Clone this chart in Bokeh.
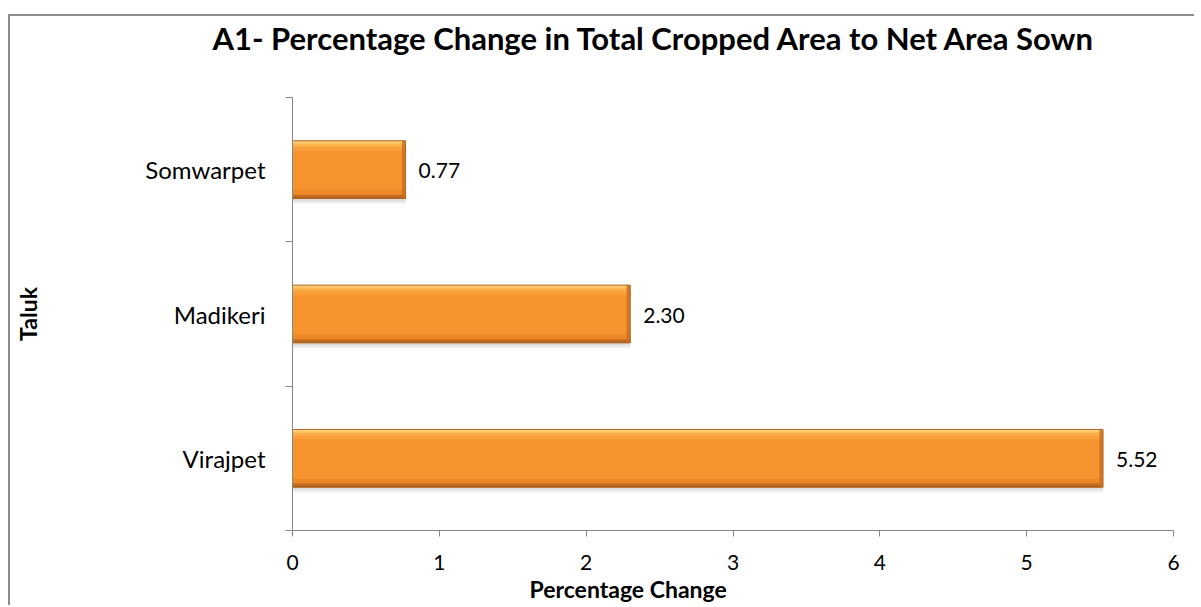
from bokeh.plotting import figure
from bokeh.models import ColumnDataSource, FixedTicker, Range1d, Title
from bokeh.transform import dodge
from bokeh.core.properties import value
from bokeh.embed import file_html
from bokeh.resources import INLINE

# ---- data ----
taluks = ["Virajpet", "Madikeri", "Somwarpet"]
pct_change = [5.52, 2.30, 0.77]
value_labels = ["5.52", "2.30", "0.77"]
x_ticks = [0, 1, 2, 3, 4, 5, 6]

title_text = "A1- Percentage  Change in Total Cropped Area to Net Area Sown"
x_title = "Percentage Change"
y_title = "Taluk"

FONT = "Lato"
AXIS_COLOR = "#868686"

pos = [i + 0.5 for i in range(len(taluks))]
bounds = list(range(len(taluks) + 1))

src = ColumnDataSource(dict(
    y=pos,
    v=pct_change,
    lab=value_labels,
    vedge=[v - 0.025 for v in pct_change],
))

p = figure(width=1186, height=591,
           x_range=Range1d(0, 6), y_range=Range1d(0, 3),
           output_backend="svg", toolbar_location=None,
           min_border_left=282, min_border_right=23,
           min_border_top=80, min_border_bottom=77)
p.styles = {"position": "relative", "left": "8px", "top": "14px",
            "border-left": "2px solid #8b8b8b", "border-top": "2px solid #8b8b8b"}

p.xgrid.visible = False
p.ygrid.visible = False
p.outline_line_color = None
p.background_fill_color = "white"
p.border_fill_color = "white"

H = 0.40
# shadow
p.hbar(y=dodge("y", -0.035), left=0, right="v", height=H, source=src,
       fill_color="black", fill_alpha=0.07, line_color=None)
p.hbar(y=dodge("y", -0.02), left=0, right="v", height=H, source=src,
       fill_color="black", fill_alpha=0.06, line_color=None)
# main bar
p.hbar(y="y", left=0, right="v", height=H, source=src,
       fill_color="#F7932E", line_color=None)
# top highlight (graded)
p.hbar(y=dodge("y", H / 2 - 0.055), left=0, right="v", height=0.03, source=src,
       fill_color="#F99E38", line_color=None)
p.hbar(y=dodge("y", H / 2 - 0.033), left=0, right="v", height=0.02, source=src,
       fill_color="#FBAD48", line_color=None)
p.hbar(y=dodge("y", H / 2 - 0.017), left=0, right="v", height=0.016, source=src,
       fill_color="#FDC062", line_color=None)
p.hbar(y=dodge("y", H / 2 - 0.006), left=0, right="v", height=0.012, source=src,
       fill_color="#FFD583", line_color=None)
# bottom shade
p.hbar(y=dodge("y", -H / 2 + 0.035), left=0, right="v", height=0.05, source=src,
       fill_color="#EB8727", line_color=None)
p.hbar(y=dodge("y", -H / 2 + 0.015), left=0, right="v", height=0.02, source=src,
       fill_color="#C26C1F", line_color=None)
p.hbar(y=dodge("y", -H / 2 + 0.004), left=0, right="v", height=0.008, source=src,
       fill_color="#9A561B", line_color=None)
# right edge shade
p.hbar(y="y", left="vedge", right="v", height=H, source=src,
       fill_color="#C96F1F", fill_alpha=0.8, line_color=None)
# outline
p.hbar(y="y", left=0, right="v", height=H, source=src,
       fill_color=None, line_color="#B0661F", line_width=1)

# value labels
p.text(x="v", y="y", text="lab", source=src, x_offset=13, y_offset=1,
       text_baseline="middle", text_align="left",
       text_font=value(FONT), text_font_size="21px", text_color="black")

# x axis
xa = p.xaxis[0]
xa.ticker = FixedTicker(ticks=x_ticks)
xa.axis_line_color = AXIS_COLOR
xa.major_tick_line_color = AXIS_COLOR
xa.major_tick_out = 6
xa.major_tick_in = 0
xa.minor_tick_line_color = None
xa.major_label_standoff = 18
xa.major_label_text_font = FONT
xa.major_label_text_font_size = "21px"
xa.major_label_text_color = "black"

# y axis
ya = p.yaxis[0]
ya.ticker = FixedTicker(ticks=pos, minor_ticks=bounds)
ya.major_label_overrides = {pv: name for pv, name in zip(pos, taluks)}
ya.axis_line_color = AXIS_COLOR
ya.major_tick_out = 0
ya.major_tick_in = 0
ya.minor_tick_out = 7
ya.minor_tick_in = 0
ya.minor_tick_line_color = AXIS_COLOR
ya.major_label_standoff = 20
ya.major_label_text_font = FONT
ya.major_label_text_font_size = "24px"
ya.major_label_text_color = "black"
ya.axis_label = y_title
ya.axis_label_text_font = FONT
ya.axis_label_text_font_style = "bold"
ya.axis_label_text_font_size = "23px"
ya.axis_label_text_color = "black"
ya.axis_label_standoff = 100

# spacer between frame and the title (closest to the frame)
spacer = Title(text=" ", text_font_size="1px", standoff=38)
p.add_layout(spacer, "above")

# title
p.title.text = title_text
p.title.align = "left"
p.title.offset = -80
p.title.standoff = 0
p.title.text_font = FONT
p.title.text_font_size = "31px"
p.title.text_font_style = "bold"
p.title.text_color = "black"

# x axis title as a bottom title so it can be offset
xt = Title(text=x_title, align="left", offset=237, standoff=0,
           text_font=FONT, text_font_size="23px", text_font_style="bold",
           text_color="black")
p.add_layout(xt, "below")

open("out.html", "w").write(file_html(p, INLINE))
